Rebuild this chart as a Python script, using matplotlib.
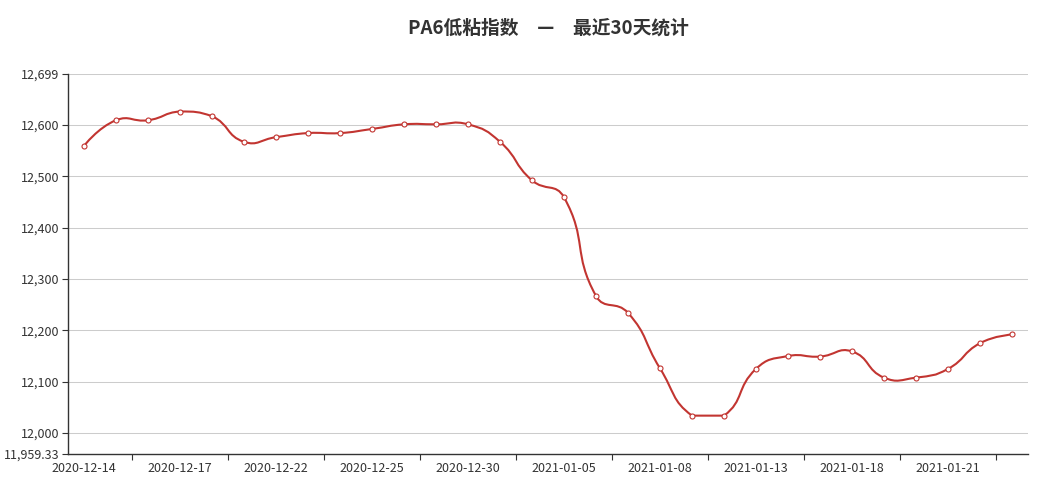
import numpy as np
import matplotlib
matplotlib.use('Agg')
import matplotlib.pyplot as plt
from matplotlib.path import Path
from matplotlib.patches import PathPatch
from matplotlib.ticker import FixedLocator

plt.rcParams['font.family'] = ['Noto Sans CJK SC', 'DejaVu Sans']

# data
dates = ['2020-12-14', '2020-12-15', '2020-12-16', '2020-12-17', '2020-12-18',
         '2020-12-21', '2020-12-22', '2020-12-23', '2020-12-24', '2020-12-25',
         '2020-12-28', '2020-12-29', '2020-12-30', '2020-12-31', '2021-01-04',
         '2021-01-05', '2021-01-06', '2021-01-07', '2021-01-08', '2021-01-11',
         '2021-01-12', '2021-01-13', '2021-01-14', '2021-01-15', '2021-01-18',
         '2021-01-19', '2021-01-20', '2021-01-21', '2021-01-22', '2021-01-25']
values = [12559, 12609, 12609, 12626, 12617,
          12567, 12576, 12584, 12584, 12592,
          12601, 12601, 12601, 12567, 12492,
          12459, 12267, 12234, 12126, 12034,
          12034, 12125, 12150, 12149, 12159,
          12108, 12108, 12125, 12175, 12192]
y_min, y_max = 11959.33, 12699
y_ticks = [11959.33, 12000, 12100, 12200, 12300, 12400, 12500, 12600, 12699]

RED = '#c23531'
DARK = '#333333'


def smooth_path(xs, ys, sx, sy, smooth=0.5):
    # echarts-style bezier smoothing, computed in pixel units
    pts = np.column_stack([np.asarray(xs, float) * sx, np.asarray(ys, float) * sy])
    lo, hi = pts.min(axis=0), pts.max(axis=0)
    cps = [pts[0]]
    for i in range(1, len(pts) - 1):
        v = (pts[i + 1] - pts[i - 1]) * smooth
        d0 = np.linalg.norm(pts[i] - pts[i - 1])
        d1 = np.linalg.norm(pts[i] - pts[i + 1])
        s = d0 + d1
        if s:
            d0, d1 = d0 / s, d1 / s
        cps.append(np.clip(pts[i] - v * d0, lo, hi))
        cps.append(np.clip(pts[i] + v * d1, lo, hi))
    cps.append(pts[-1])
    verts = [pts[0]]
    codes = [Path.MOVETO]
    for i in range(len(pts) - 1):
        verts += [cps[2 * i], cps[2 * i + 1], pts[i + 1]]
        codes += [Path.CURVE4] * 3
    verts = np.array(verts) / [sx, sy]
    return Path(verts, codes)


fig = plt.figure(figsize=(10.44, 4.95), dpi=100)
ax = fig.add_axes([68 / 1044, 1 - 454 / 495, 960 / 1044, 380 / 495])

x = np.arange(len(values))
ax.set_xlim(-0.5, len(values) - 0.5)
ax.set_ylim(y_min, y_max)

# horizontal grid
for t in y_ticks[1:]:
    ax.axhline(t, color='#cccccc', lw=0.75, zorder=1)

sy = 380 / (y_max - y_min)
path = smooth_path(x, values, 32, sy)
ax.add_patch(PathPatch(path, fill=False, edgecolor=RED, lw=1.5, zorder=3,
                       capstyle='round', joinstyle='round'))
ax.plot(x, values, ls='none', marker='o', ms=3.6, mfc='white', mec=RED,
        mew=0.8, zorder=4)

# axes styling
for side in ('top', 'right'):
    ax.spines[side].set_visible(False)
for side in ('left', 'bottom'):
    ax.spines[side].set_color(DARK)
    ax.spines[side].set_linewidth(1.0)

ax.yaxis.set_major_locator(FixedLocator(y_ticks))
ax.set_yticklabels([f'{t:,.2f}'.rstrip('0').rstrip('.') for t in y_ticks])
ax.tick_params(axis='y', length=4, width=0.8, color=DARK, labelsize=9,
               labelcolor=DARK, pad=2)

ax.xaxis.set_major_locator(FixedLocator(x[::3]))
ax.set_xticklabels(dates[::3])
ax.xaxis.set_minor_locator(FixedLocator(np.arange(1.5, len(values) - 1, 3)))
ax.tick_params(axis='x', which='major', length=0, labelsize=9,
               labelcolor=DARK, pad=6)
ax.tick_params(axis='x', which='minor', length=4, width=0.8, color=DARK)

fig.text(548 / 1044, 1 - 28 / 495, 'PA6低粘指数　—　最近30天统计',
         ha='center', va='center', fontsize=13.5, fontweight='bold', color=DARK)

fig.savefig('out.png', dpi=100)
